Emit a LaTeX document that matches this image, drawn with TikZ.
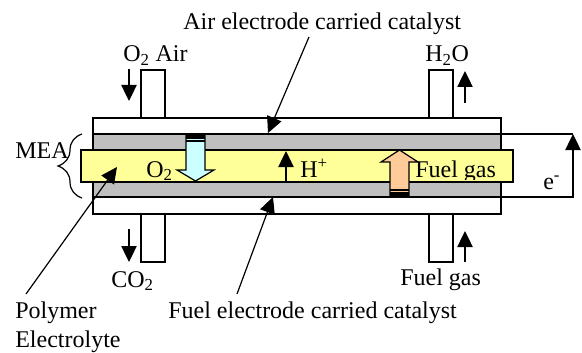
\documentclass[tikz,border=0pt]{standalone}
\usepackage{fontspec}
\setmainfont{Liberation Serif}
\usepackage{tikz}
\usetikzlibrary{arrows.meta,decorations.pathreplacing}
\definecolor{greylayer}{HTML}{BFBFBF}
\definecolor{yellowlayer}{HTML}{FFFF99}
\definecolor{oxygenblue}{HTML}{CCFFFF}
\definecolor{fuelorange}{HTML}{FFCC99}
\tikzset{
    line/.style={black, line width=0.9pt},
    flow/.style={black, line width=0.9pt, -{Triangle[length=12pt,width=11.5pt]}},
    label/.style={font=\fontsize{18}{21}\selectfont, anchor=base west, inner sep=0pt, text=black}
}

\begin{document}
\begin{tikzpicture}[x=0.75pt,y=-0.75pt]
    \useasboundingbox (0,0) rectangle (582,353);

    % Gas pipes
    \foreach \x in {141,429} {
        \draw[line] (\x,70) rectangle (\x+24,118);
        \draw[line] (\x,214) rectangle (\x+24,262);
    }

    % Cell body
    \draw[line, fill=white] (93,118) rectangle (501,214);
    \draw[line, fill=greylayer] (93,134) rectangle (501,197);
    \draw[line, fill=yellowlayer] (81,150) rectangle (513,182);

    % External circuit
    \coordinate (circuitA) at (501,197);
    \coordinate (circuitB) at (573,197);
    \coordinate (circuitC) at (573,134);
    \coordinate (circuitD) at (501,134);
    \draw[line] (circuitD) -- (circuitC);
    \draw[flow] (circuitA) -- (circuitB) -- (circuitC);

    % Oxygen block arrow
    \draw[line, fill=oxygenblue] (186,134) -- (205,134) -- (205,170) -- (214,170) -- (195.5,181) -- (177,170) -- (186,170) -- cycle;
    \fill[black] (186,134) rectangle (205,139);
    \draw[black, line width=0.9pt] (186,141) -- (205,141);

    % Fuel block arrow
    \draw[line, fill=fuelorange] (390,197) -- (409,197) -- (409,162) -- (418,162) -- (399.5,150) -- (381,162) -- (390,162) -- cycle;
    \fill[black] (390,192) rectangle (409,197);
    \draw[black, line width=0.9pt] (390,190) -- (409,190);

    % Proton arrow
    \coordinate (protonA) at (286,182);
    \coordinate (protonB) at (286,151);
    \draw[flow] (protonA) -- (protonB);

    % Texts cut off by the electrolyte
    \begin{scope}
        \clip (81,150) rectangle (513,179);
        \node[label] (oxygen) at (146,177) {O\textsubscript{2}};
        \node[label] (fuelin) at (415,177) {Fuel gas};
    \end{scope}

    % Labels
    \node[label] (airlabel) at (183,30) {Air electrode carried catalyst};
    \node[label] (oxair) at (123,62) {O\textsubscript{2} Air};
    \node[label] (water) at (425,62) {H\textsubscript{2}O};
    \node[label] (mea) at (15,158) {MEA};
    \node[label] (proton) at (300,177) {H\textsuperscript{+}};
    \node[label] (electron) at (543,189) {e\textsuperscript{-}};
    \node[label] (carbon) at (111,287) {CO\textsubscript{2}};
    \node[label] (fuelout) at (400,285) {Fuel gas};
    \node[label] (fuellabel) at (168,318) {Fuel electrode carried catalyst};
    \node[label] (polymer) at (15,318) {Polymer};
    \node[label] (electrolyte) at (15,347.5) {Electrolyte};

    % MEA brace
    \draw[line, decorate, decoration={brace, amplitude=18pt}] (82,198) -- (82,134);

    % Leader arrows
    \coordinate (airstart) at (309,37);
    \coordinate (airend) at (268,133);
    \coordinate (fuelstart) at (237,294);
    \coordinate (fuelend) at (273,197);
    \coordinate (polystart) at (26,294);
    \coordinate (polyend) at (117,167);
    \draw[flow] (airstart) -- (airend);
    \draw[flow] (fuelstart) -- (fuelend);
    \draw[flow] (polystart) -- (polyend);

    % Gas flow arrows
    \coordinate (oxA) at (129,69);
    \coordinate (oxB) at (129,101);
    \coordinate (waterA) at (465,103);
    \coordinate (waterB) at (465,71);
    \coordinate (carbonA) at (129,229);
    \coordinate (carbonB) at (129,262);
    \coordinate (fuelA) at (465,262);
    \coordinate (fuelB) at (465,231);
    \draw[flow] (oxA) -- (oxB);
    \draw[flow] (waterA) -- (waterB);
    \draw[flow] (carbonA) -- (carbonB);
    \draw[flow] (fuelA) -- (fuelB);
\end{tikzpicture}
\end{document}
